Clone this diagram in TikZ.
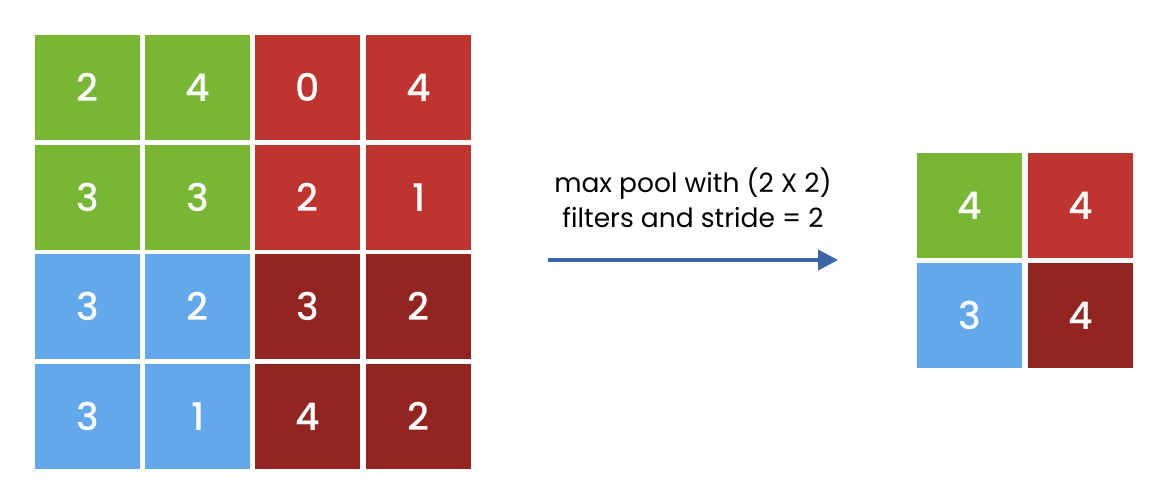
\documentclass[tikz,border=0pt]{standalone}
\usepackage{fontspec}
\setmainfont{Poppins}
\newfontfamily\numfont{Poppins Medium}
\usetikzlibrary{arrows.meta}
\definecolor{cgreen}{RGB}{120,183,54}
\definecolor{cred}{RGB}{190,52,46}
\definecolor{cdark}{RGB}{147,37,32}
\definecolor{cblue}{RGB}{99,168,234}
\definecolor{carrow}{RGB}{58,102,166}
\begin{document}
\begin{tikzpicture}[x=1pt,y=-1pt,
  cell/.style={minimum width=105pt,minimum height=105pt,inner sep=0pt,anchor=north west,text=white,font=\numfont\fontsize{38}{42}\selectfont},
  g/.style={cell,fill=cgreen},
  r/.style={cell,fill=cred},
  d/.style={cell,fill=cdark},
  b/.style={cell,fill=cblue},
  label/.style={align=center,font=\fontsize{26.5}{35}\selectfont,text=black,inner sep=0pt},
  flow/.style={draw=carrow,line width=4pt,-{Triangle[length=20pt,width=20pt]}}]
\useasboundingbox (0,0) rectangle (1162,488);
% input 4x4
\node[g] (a11) at (35,35) {2};
\node[g] (a12) at (145,35) {4};
\node[r] (a13) at (255,35) {0};
\node[r] (a14) at (366,35) {4};
\node[g] (a21) at (35,145) {3};
\node[g] (a22) at (145,145) {3};
\node[r] (a23) at (255,145) {2};
\node[r] (a24) at (366,145) {1};
\node[b] (a31) at (35,254) {3};
\node[b] (a32) at (145,254) {2};
\node[d] (a33) at (255,254) {3};
\node[d] (a34) at (366,254) {2};
\node[b] (a41) at (35,364) {3};
\node[b] (a42) at (145,364) {1};
\node[d] (a43) at (255,364) {4};
\node[d] (a44) at (366,364) {2};
% output 2x2
\node[g] (o11) at (917,153) {4};
\node[r] (o12) at (1028,153) {4};
\node[b] (o21) at (917,263) {3};
\node[d] (o22) at (1028,263) {4};
% label and arrow
\node[label] (txt) at (693,198) {max pool with (2 X 2)\\filters and stride = 2};
\coordinate (s) at (548,260);
\coordinate (e) at (838,260);
\draw[flow] (s) -- (e);
\end{tikzpicture}
\end{document}
